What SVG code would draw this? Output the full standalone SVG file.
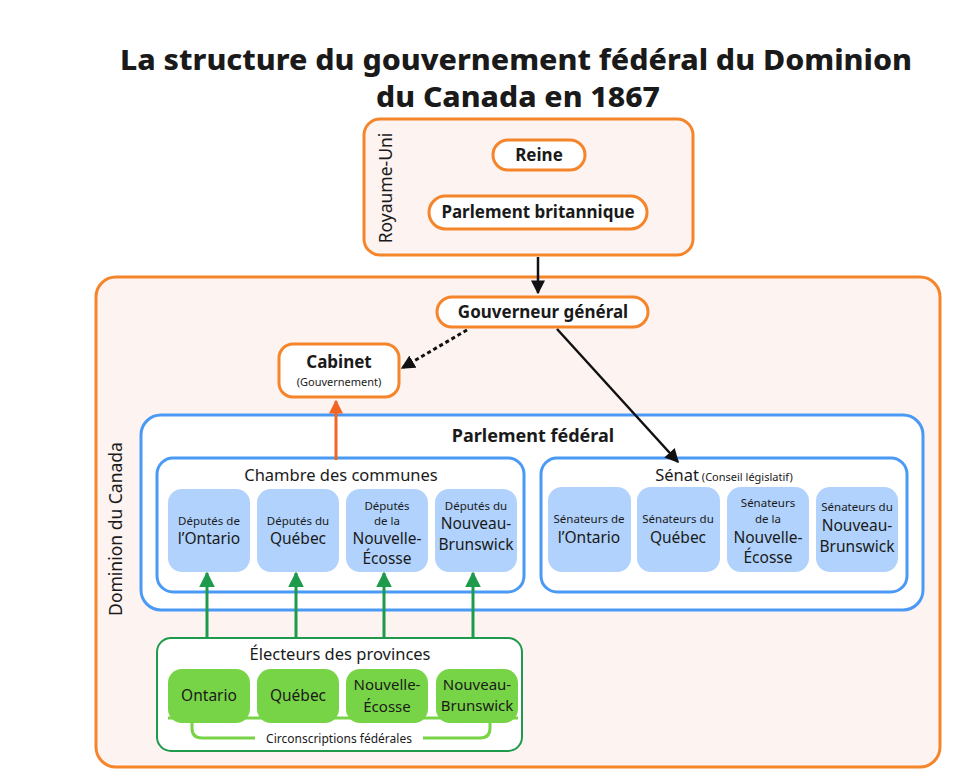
<svg xmlns="http://www.w3.org/2000/svg" width="973" height="777" viewBox="0 0 973 777">
<style>
text{font-family:"Noto Sans","Open Sans","DejaVu Sans",sans-serif;fill:#1a1a1a;text-anchor:middle}
.title{font-size:29px;font-weight:800}
.region{fill:#fdf3f0;stroke:#f5852b;stroke-width:3}
.pill{fill:#fff;stroke:#f5852b;stroke-width:3}
.blue{fill:#fff;stroke:#4a9af5;stroke-width:3}
.lb{fill:#b0d2fc}
.lg{fill:#78d447}
.green{fill:#fff;stroke:#1d9a4c;stroke-width:2}
.b16{font-size:17px;font-weight:700}
.b17{font-size:18px;font-weight:700}
.h15{font-size:16.5px}
.s12{font-size:11.5px}
.s11{font-size:11px}
.m15{font-size:15.5px}
.g15{font-size:15px}
.vert{font-size:17.5px}
</style>
<defs>
<marker id="ab" viewBox="0 0 10 10" refX="9" refY="5" markerWidth="14" markerHeight="14" markerUnits="userSpaceOnUse" orient="auto"><path d="M0,0L10,5L0,10z" fill="#111"/></marker>
<marker id="ao" viewBox="0 0 10 10" refX="9" refY="5" markerWidth="14" markerHeight="14" markerUnits="userSpaceOnUse" orient="auto"><path d="M0,0L10,5L0,10z" fill="#f26522"/></marker>
<marker id="ag" viewBox="0 0 10 10" refX="9" refY="5" markerWidth="16" markerHeight="16" markerUnits="userSpaceOnUse" orient="auto"><path d="M0,0L10,5L0,10z" fill="#1d9a4c"/></marker>
</defs>
<rect width="973" height="777" fill="#fff"/>
<g id="title">
<text class="title" x="516" y="70" textLength="792" lengthAdjust="spacingAndGlyphs">La structure du gouvernement fédéral du Dominion</text>
<text class="title" x="518" y="107" textLength="284" lengthAdjust="spacingAndGlyphs">du Canada en 1867</text>
</g>
<g id="royaume-uni">
<rect class="region" x="364" y="119" width="329" height="136" rx="16"/>
<text class="vert" transform="translate(392,188) rotate(-90)">Royaume-Uni</text>
</g>
<g id="reine">
<rect class="pill" x="493" y="140" width="92" height="30" rx="15"/>
<text class="b16" x="539" y="161">Reine</text>
</g>
<g id="parlement-britannique">
<rect class="pill" x="429" y="196" width="218" height="33" rx="16.5"/>
<text class="b16" x="538" y="218">Parlement britannique</text>
</g>
<g id="dominion">
<rect class="region" x="96" y="277" width="844" height="490" rx="20"/>
<text class="vert" transform="translate(122,529) rotate(-90)">Dominion du Canada</text>
</g>
<g id="gouverneur-general">
<rect class="pill" x="437" y="297" width="211" height="30" rx="15"/>
<text class="b16" x="543" y="318">Gouverneur général</text>
</g>
<g id="cabinet">
<rect class="pill" x="279" y="344" width="120" height="53" rx="14"/>
<text class="b16" x="339" y="368">Cabinet</text>
<text class="s11" x="339" y="386">(Gouvernement)</text>
</g>
<g id="parlement-federal">
<rect class="blue" x="141" y="415" width="782" height="195" rx="20"/>
<text class="b17" x="533" y="442">Parlement fédéral</text>
</g>
<g id="chambre-des-communes">
<rect class="blue" x="157" y="458" width="367" height="134" rx="16"/>
<text class="h15" x="341" y="481">Chambre des communes</text>
</g>
<g id="deputes-ontario">
<rect class="lb" x="168" y="489" width="82" height="83" rx="14"/>
<text class="s12" x="209" y="525">Députés de</text>
<text class="m15" x="209" y="544">l’Ontario</text>
</g>
<g id="deputes-quebec">
<rect class="lb" x="257" y="489" width="82" height="83" rx="14"/>
<text class="s12" x="298" y="525">Députés du</text>
<text class="m15" x="298" y="544">Québec</text>
</g>
<g id="deputes-nouvelle-ecosse">
<rect class="lb" x="346" y="489" width="82" height="83" rx="14"/>
<text class="s12" x="387" y="510">Députés</text>
<text class="s12" x="387" y="525">de la</text>
<text class="m15" x="387" y="544">Nouvelle-</text>
<text class="m15" x="387" y="564">Écosse</text>
</g>
<g id="deputes-nouveau-brunswick">
<rect class="lb" x="435" y="489" width="82" height="83" rx="14"/>
<text class="s12" x="476" y="510">Députés du</text>
<text class="m15" x="476" y="529">Nouveau-</text>
<text class="m15" x="476" y="550">Brunswick</text>
</g>
<g id="senat">
<rect class="blue" x="541" y="458" width="366" height="134" rx="16"/>
<text x="724" y="481"><tspan class="h15">Sénat</tspan><tspan class="s11"> (Conseil législatif)</tspan></text>
</g>
<g id="senateurs-ontario">
<rect class="lb" x="548" y="487" width="83" height="85" rx="14"/>
<text class="s12" x="589" y="523">Sénateurs de</text>
<text class="m15" x="589" y="543">l’Ontario</text>
</g>
<g id="senateurs-quebec">
<rect class="lb" x="637" y="487" width="83" height="85" rx="14"/>
<text class="s12" x="678" y="523">Sénateurs du</text>
<text class="m15" x="678" y="543">Québec</text>
</g>
<g id="senateurs-nouvelle-ecosse">
<rect class="lb" x="727" y="487" width="82" height="85" rx="14"/>
<text class="s12" x="768" y="507">Sénateurs</text>
<text class="s12" x="768" y="523">de la</text>
<text class="m15" x="768" y="543">Nouvelle-</text>
<text class="m15" x="768" y="563">Écosse</text>
</g>
<g id="senateurs-nouveau-brunswick">
<rect class="lb" x="816" y="487" width="82" height="85" rx="14"/>
<text class="s12" x="857" y="511">Sénateurs du</text>
<text class="m15" x="857" y="531">Nouveau-</text>
<text class="m15" x="857" y="552">Brunswick</text>
</g>
<g id="electeurs">
<rect class="green" x="157" y="638" width="365" height="113" rx="14"/>
<text class="h15" x="340" y="660">Électeurs des provinces</text>
<path d="M168,718H518" stroke="#78d447" stroke-width="3" fill="none"/>
<path d="M192,715V728Q192,738 202,738H480Q490,738 490,728V715" stroke="#78d447" stroke-width="3" fill="none"/>
<rect x="255" y="732" width="168" height="12" fill="#fff"/>
<text class="s12" x="339" y="743" style="font-size:12px">Circonscriptions fédérales</text>
</g>
<g id="electeurs-ontario">
<rect class="lg" x="168" y="669" width="82" height="54" rx="14"/>
<text class="m15" x="209" y="701">Ontario</text>
</g>
<g id="electeurs-quebec">
<rect class="lg" x="257" y="669" width="82" height="54" rx="14"/>
<text class="m15" x="298" y="701">Québec</text>
</g>
<g id="electeurs-nouvelle-ecosse">
<rect class="lg" x="346" y="669" width="82" height="54" rx="14"/>
<text class="g15" x="387" y="690">Nouvelle-</text>
<text class="g15" x="387" y="712">Écosse</text>
</g>
<g id="electeurs-nouveau-brunswick">
<rect class="lg" x="436" y="669" width="82" height="54" rx="14"/>
<text class="g15" x="477" y="690">Nouveau-</text>
<text class="g15" x="477" y="711">Brunswick</text>
</g>
<g id="connectors" fill="none">
<path d="M538,257V293" stroke="#111" stroke-width="2.5" marker-end="url(#ab)"/>
<path d="M467,330L402,368" stroke="#111" stroke-width="3" stroke-dasharray="4,3" marker-end="url(#ab)"/>
<path d="M557,329L678,462" stroke="#111" stroke-width="2.5" marker-end="url(#ab)"/>
<path d="M336,460V401" stroke="#f26522" stroke-width="3" marker-end="url(#ao)"/>
<path d="M207,638V573" stroke="#1d9a4c" stroke-width="3" marker-end="url(#ag)"/>
<path d="M296,638V573" stroke="#1d9a4c" stroke-width="3" marker-end="url(#ag)"/>
<path d="M384,638V573" stroke="#1d9a4c" stroke-width="3" marker-end="url(#ag)"/>
<path d="M473,638V573" stroke="#1d9a4c" stroke-width="3" marker-end="url(#ag)"/>
</g>
</svg>
